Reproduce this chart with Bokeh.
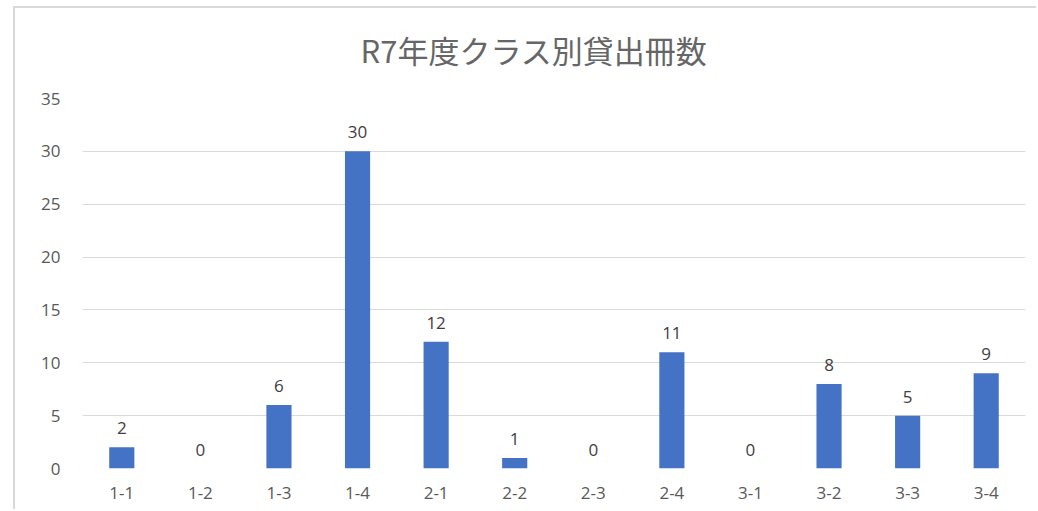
from bokeh.plotting import figure
from bokeh.models import ColumnDataSource, FactorRange, Range1d, LabelSet, SingleIntervalTicker
from bokeh.core.properties import value
from bokeh.embed import file_html
from bokeh.resources import INLINE

title_text = "R7年度クラス別貸出冊数"
classes = ["1-1", "1-2", "1-3", "1-4", "2-1", "2-2", "2-3", "2-4", "3-1", "3-2", "3-3", "3-4"]
counts = [2, 0, 6, 30, 12, 1, 0, 11, 0, 8, 5, 9]

src = ColumnDataSource(data=dict(cls=classes, n=counts, lbl=[str(v) for v in counts]))

p = figure(
    x_range=FactorRange(factors=classes, range_padding=0),
    y_range=Range1d(0, 35),
    width=1036, height=509,
    output_backend="svg", toolbar_location=None,
    min_border_left=82, min_border_right=11, min_border_top=98, min_border_bottom=41,
)
p.border_fill_alpha = 0
p.background_fill_alpha = 0
p.styles = {
    "background": "linear-gradient(#d9d9d9,#d9d9d9) 13px 6px / 2px 100% no-repeat, "
                  "linear-gradient(#d9d9d9,#d9d9d9) 13px 6px / 100% 2px no-repeat, white"
}

p.vbar(x="cls", top="n", width=0.32, source=src, fill_color="#4472C4", line_color=None)

labels = LabelSet(x="cls", y="n", text="lbl", source=src, text_align="center",
                  text_baseline="alphabetic", y_offset=13, text_font_size="17px",
                  text_color="#404040", text_font=value("Open Sans"))
p.add_layout(labels)

p.title.text = title_text
p.title.align = "left"
p.title.offset = 278
p.title.vertical_align = "top"
p.title.text_font = "Noto Sans CJK JP"
p.title.text_font_style = "normal"
p.title.text_font_size = "31px"
p.title.text_color = "#666666"
p.title.standoff = 50

p.outline_line_color = None
p.xgrid.grid_line_color = None
p.ygrid.grid_line_color = "#d9d9d9"
p.ygrid.grid_line_width = 1

p.yaxis.ticker = SingleIntervalTicker(interval=5)
for ax in (p.xaxis, p.yaxis):
    ax.axis_line_color = None
    ax.major_tick_line_color = None
    ax.minor_tick_line_color = None
    ax.major_label_text_font = "Open Sans"
    ax.major_label_text_font_size = "17px"
    ax.major_label_text_color = "#595959"
p.yaxis.major_label_standoff = 16
p.xaxis.major_label_standoff = 12

open("out.html", "w").write(file_html(p, INLINE))
